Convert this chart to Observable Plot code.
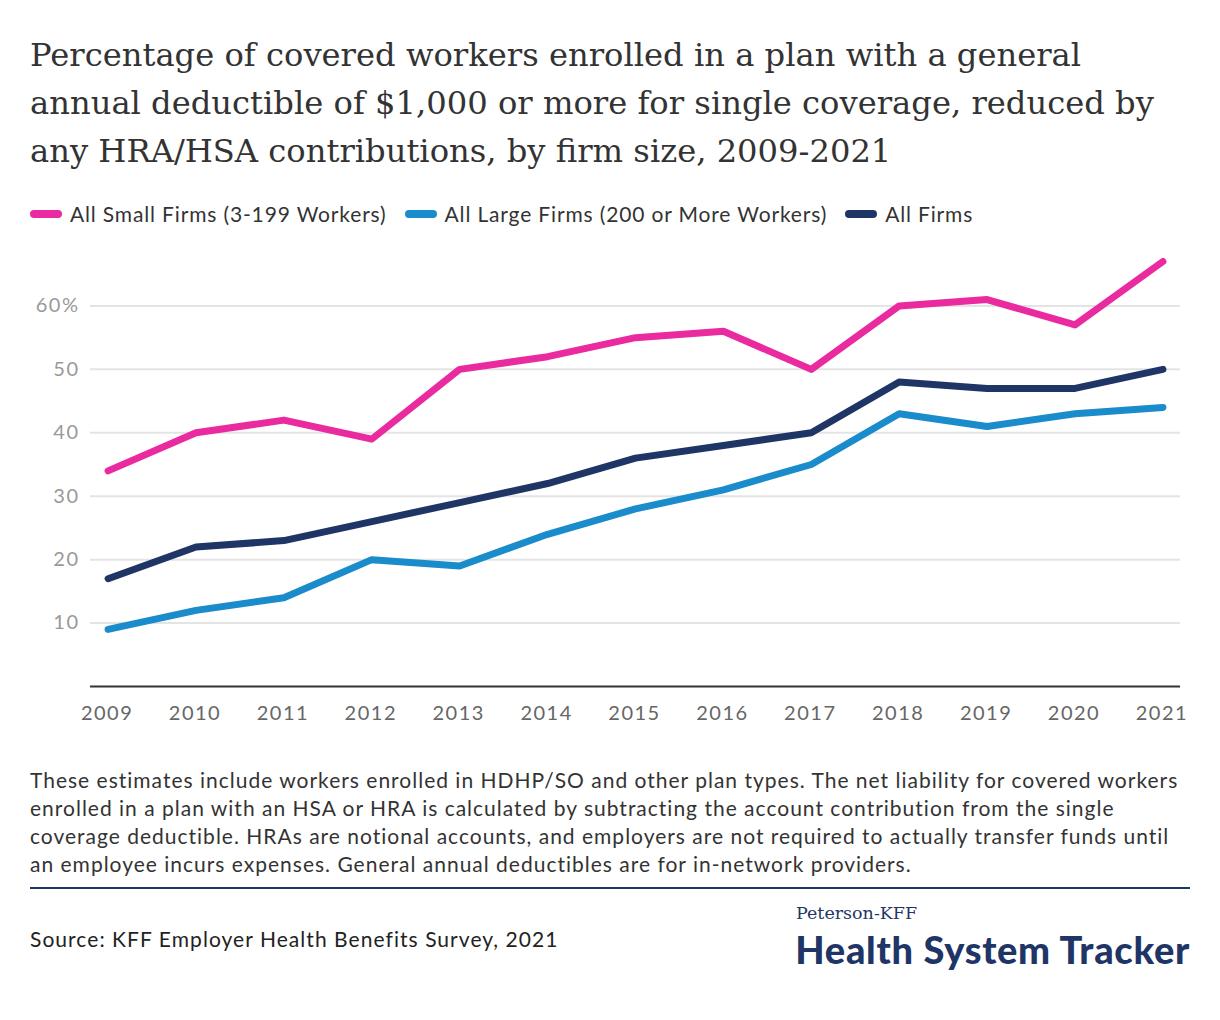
<!DOCTYPE html>
<html>
<head>
<meta charset="utf-8">
<script src="https://cdn.jsdelivr.net/npm/d3@7"></script>
<script src="https://cdn.jsdelivr.net/npm/@observablehq/plot@0.6"></script>
<style>
  html, body { margin: 0; padding: 0; background: #fff; }
  body { width: 1220px; height: 1020px; position: relative; overflow: hidden; font-family: Lato, "Noto Sans", sans-serif; }
  #title { position: absolute; left: 30px; top: 31px; width: 1190px; white-space: nowrap; font-family: "DejaVu Serif", Georgia, serif; font-size: 32.2px; line-height: 48px; color: #333; }
  #legend { position: absolute; left: 30px; top: 201px; display: flex; align-items: center; font-size: 21px; letter-spacing: 0.85px; color: #333; }
  .item { display: flex; align-items: center; margin-right: 18px; }
  .sw { width: 32px; height: 8px; border-radius: 4px; margin-right: 8px; }
  #chart { position: absolute; left: 0; top: 230px; }
  #note { position: absolute; left: 30px; top: 766px; width: 1190px; white-space: nowrap; font-size: 21px; letter-spacing: 1px; line-height: 28px; color: #333; }
  #divider { position: absolute; left: 30px; top: 887px; width: 1160px; height: 2px; background: #1f3566; }
  #source { position: absolute; left: 30px; top: 926px; font-size: 21px; letter-spacing: 1.05px; color: #222; }
  #logo1 { position: absolute; left: 796px; top: 905px; line-height: 1; font-family: "DejaVu Serif", serif; font-size: 17.5px; color: #1f3566; }
  #logo2 { position: absolute; right: 30px; top: 930px; line-height: 1; font-family: Lato, sans-serif; font-weight: 900; font-size: 38px; color: #1f3566; letter-spacing: 0.7px; }
</style>
</head>
<body>
<div id="title">Percentage of covered workers enrolled in a plan with a general<br>annual deductible of $1,000 or more for single coverage, reduced by<br>any HRA/HSA contributions, by firm size, 2009-2021</div>
<div id="legend"></div>
<div id="chart"></div>
<div id="note">These estimates include workers enrolled in HDHP/SO and other plan types. The net liability for covered workers<br>enrolled in a plan with an HSA or HRA is calculated by subtracting the account contribution from the single<br>coverage deductible. HRAs are notional accounts, and employers are not required to actually transfer funds until<br>an employee incurs expenses. General annual deductibles are for in-network providers.</div>
<div id="divider"></div>
<div id="source">Source: KFF Employer Health Benefits Survey, 2021</div>
<div id="logo1">Peterson-KFF</div>
<div id="logo2">Health System Tracker</div>
<script>
const years = [2009, 2010, 2011, 2012, 2013, 2014, 2015, 2016, 2017, 2018, 2019, 2020, 2021];
const smallFirms = [34, 40, 42, 39, 50, 52, 55, 56, 50, 60, 61, 57, 67];
const largeFirms = [9, 12, 14, 20, 19, 24, 28, 31, 35, 43, 41, 43, 44];
const allFirms = [17, 22, 23, 26, 29, 32, 36, 38, 40, 48, 47, 47, 50];
const seriesNames = ["All Small Firms (3-199 Workers)", "All Large Firms (200 or More Workers)", "All Firms"];
const seriesColors = ["#ea2a9f", "#1a8bcb", "#1f3566"];
const yTicks = [10, 20, 30, 40, 50, 60];

const seriesValues = [smallFirms, largeFirms, allFirms];
const data = [];
seriesNames.forEach((name, i) => {
  years.forEach((yr, j) => data.push({series: name, year: yr, value: seriesValues[i][j]}));
});

const legend = document.getElementById("legend");
seriesNames.forEach((name, i) => {
  const it = document.createElement("div");
  it.className = "item";
  it.innerHTML = `<span class="sw" style="background:${seriesColors[i]}"></span><span>${name}</span>`;
  legend.appendChild(it);
});

const yFmt = d => d === 60 ? "60%" : String(d);
const chart = Plot.plot({
  width: 1220,
  height: 500,
  marginTop: 12,
  marginBottom: 44,
  marginLeft: 90,
  marginRight: 40,
  style: {fontFamily: "Lato, 'Noto Sans', sans-serif", fontSize: "20px", background: "#fff", letterSpacing: "1.5px"},
  x: {domain: [2008.8, 2021.2], ticks: years, tickFormat: d => String(d), label: null},
  y: {domain: [0, 70], ticks: yTicks, tickFormat: yFmt, label: null},
  color: {domain: seriesNames, range: seriesColors},
  marks: [
    Plot.gridY(yTicks, {stroke: "#e4e4e4", strokeOpacity: 1, strokeWidth: 2}),
    Plot.axisY({ticks: yTicks, tickSize: 0, tickPadding: 11, tickFormat: yFmt, label: null, fill: "#999", fontSize: 20}),
    Plot.axisX({ticks: years, tickSize: 0, tickPadding: 19, tickFormat: d => String(d), label: null, fill: "#666", fontSize: 20, dx: -1}),
    Plot.ruleY([0], {stroke: "#333", strokeWidth: 2}),
    Plot.line(data, {x: "year", y: "value", z: "series", stroke: "series", strokeWidth: 7, strokeLinecap: "round", strokeLinejoin: "round"})
  ]
});
document.getElementById("chart").appendChild(chart);
</script>
</body>
</html>
